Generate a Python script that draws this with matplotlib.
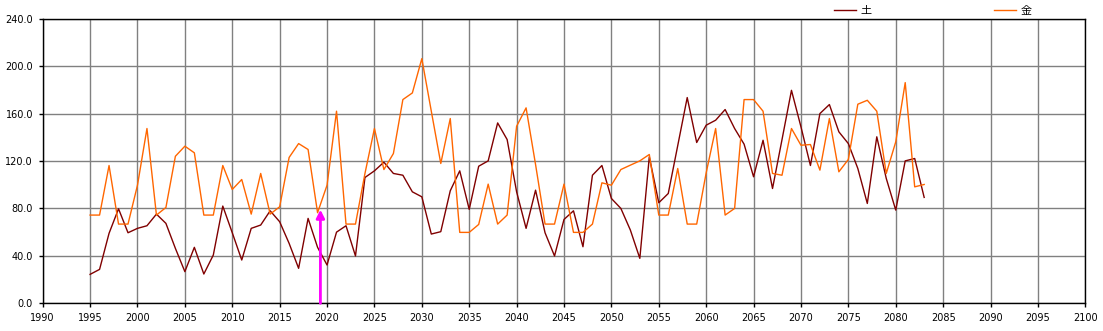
import matplotlib
matplotlib.use('Agg')
import matplotlib.pyplot as plt
import numpy as np

plt.rcParams['font.family'] = ['DejaVu Sans', 'Noto Sans CJK JP']

# data
years = list(range(1995, 2084))
do_vals = [24.4, 28.6, 59, 79.7, 59.5, 63.2, 65.4, 75.2, 67.4, 46.3,
           26.7, 47.2, 24.7, 40.7, 82, 59.5, 36.5, 63.2, 66, 78,
           68.8, 50.5, 29.5, 71.6, 47.2, 32.3, 60, 65.4, 39.9, 106.1,
           111.7, 119, 109.5, 108, 94, 89.8, 58.4, 60.4, 94.9, 111.7,
           79.2, 115.6, 120.1, 152.1, 138.1, 94, 63.2, 95.4, 59.5, 39.9,
           70.7, 78, 47.7, 108, 116.2, 88.4, 80, 61.8, 37.9, 123.5,
           84.8, 92.6, 133, 173.5, 135.6, 150.2, 154.4, 163.4, 147.4, 134.2,
           106.7, 137.5, 96.8, 138, 179.6, 148.8, 116.2, 160, 167.6, 144.6,
           134.7, 113.7, 84.2, 140.4, 105.3, 78.6, 120.1, 122.1, 89.3]
kin_vals = [74.4, 74.4, 116.2, 66.8, 66.8, 99.6, 147.4, 74.4, 80.8, 124,
            132.5, 126.9, 74.4, 74.4, 116.2, 96, 104.4, 75.2, 109.5, 75.2,
            81.4, 123, 134.7, 129.7, 76.4, 99.6, 162, 66.8, 66.8, 109.5,
            147.4, 112.8, 126.3, 171.8, 177.4, 206.3, 162, 117.9, 155.8, 59.8,
            59.8, 66.5, 100.5, 66.8, 74.4, 149.3, 164.8, 117, 66.8, 66.8,
            100.5, 59.8, 59.8, 66.8, 101.6, 99.6, 112.8, 116.5, 120.1, 125.5,
            74.4, 74.4, 113.7, 66.8, 66.8, 110, 147.4, 74.4, 80, 171.8,
            171.8, 162, 109.5, 108, 147.4, 133.3, 133.9, 112.3, 155.8, 110.9,
            121.3, 167.9, 171.2, 162, 109.5, 136.1, 186.1, 98.2, 100.2]
labels = ['土', '金']
arrow_year = 2019.3
arrow_top = 79
x_ticks = list(range(1990, 2101, 5))
y_ticks = [0, 40, 80, 120, 160, 200, 240]

fig = plt.figure(figsize=(11.03, 3.31), dpi=100)
ax = fig.add_axes([42.7 / 1103, 27.7 / 331, (1085.3 - 42.7) / 1103, (303.3 - 18.7) / 331])

ax.plot(years, do_vals, color='#800000', lw=1.0, label=labels[0], zorder=3)
ax.plot(years, kin_vals, color='#FF6600', lw=1.0, label=labels[1], zorder=3)

# magenta arrow
ax.annotate('', xy=(arrow_year, arrow_top), xytext=(arrow_year, 0),
            arrowprops=dict(arrowstyle='-|>', color='#FF00FF', lw=2, mutation_scale=12,
                            shrinkA=0, shrinkB=0), zorder=4)

ax.set_xlim(1990, 2100)
ax.set_ylim(0, 240)
ax.set_xticks(x_ticks)
ax.set_yticks(y_ticks)
ax.set_yticklabels(['%.1f' % v for v in y_ticks])
ax.grid(True, color='#808080', lw=1.0, zorder=0)
ax.set_axisbelow(True)
ax.tick_params(direction='out', length=3, width=1, labelsize=7, colors='black', pad=4)
for s in ax.spines.values():
    s.set_color('black')
    s.set_linewidth(1.0)

# legend above the plot, top right
leg = ax.legend(loc='center left', bbox_to_anchor=(834 / 1103, (331 - 11) / 331),
                bbox_transform=fig.transFigure, ncol=2, frameon=False,
                fontsize=8, handlelength=2.0, handletextpad=0.4,
                columnspacing=11.0, borderpad=0, borderaxespad=0)
for t in leg.get_texts():
    t.set_family(['Noto Sans CJK JP', 'DejaVu Sans'])

fig.savefig('out.png', dpi=100, facecolor='white')
